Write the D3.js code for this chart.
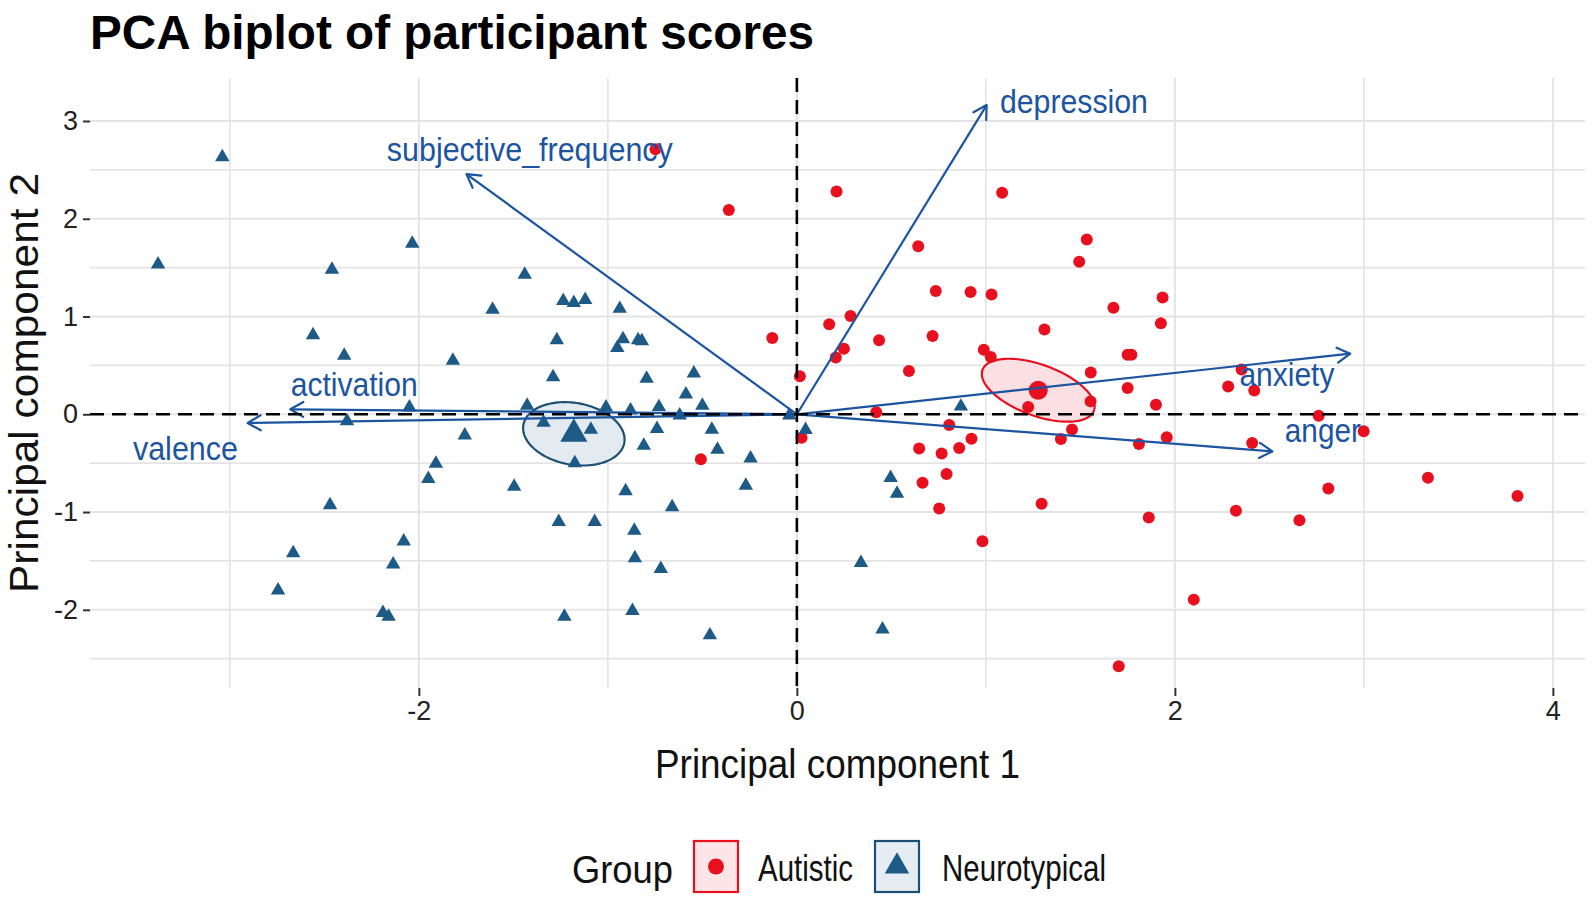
<!DOCTYPE html>
<html>
<head>
<meta charset="utf-8">
<script src="https://cdn.jsdelivr.net/npm/d3@7"></script>
<style>
  body { margin: 0; background: #fff; }
  svg { display: block; }
  text { font-family: "Liberation Sans", Arial, sans-serif; }
</style>
</head>
<body>
<svg id="chart" width="1594" height="901"></svg>
<script>
// ---- data ----
const autisticPC1 = [-0.748, -0.36, 0.21, 1.086, 0.642, 0.735, 0.919, 1.03, -0.13, 0.171,
  0.284, 1.31, 0.435, 0.718, 0.249, 0.206, 0.989, 1.026, 0.016, 0.593,
  1.534, 1.494, 1.935, 1.675, 1.926, 1.75, 1.77, 1.555, 1.75, 2.353,
  2.282, 2.42, 1.554, 1.90, 2.761, 2.999, 1.456, 1.397, 1.81, 1.957,
  2.409, 3.339, 3.813, 2.812, 1.295, 1.862, 2.323, 2.659, 2.10, 1.703,
  1.224, 0.42, 0.806, 0.924, 0.859, 0.766, 0.647, 0.792, 0.665, 0.753,
  0.982, 0.025, -0.508];
const autisticPC2 = [2.71, 2.09, 2.28, 2.265, 1.72, 1.26, 1.25, 1.225, 0.78, 0.92,
  1.006, 0.867, 0.757, 0.80, 0.67, 0.58, 0.66, 0.586, 0.39, 0.443,
  1.788, 1.56, 1.195, 1.09, 0.93, 0.61, 0.61, 0.427, 0.27, 0.457,
  0.285, 0.243, 0.132, 0.097, -0.016, -0.173, -0.156, -0.252, -0.304, -0.234,
  -0.294, -0.65, -0.837, -0.76, -0.916, -1.055, -0.986, -1.083, -1.896, -2.577,
  0.075, 0.02, -0.11, -0.25, -0.345, -0.40, -0.35, -0.61, -0.70, -0.965,
  -1.30, -0.24, -0.46];

const neuroPC1 = [-3.04, -3.38, -2.46, -2.035, -1.44, -1.61, -1.236, -1.18, -1.12, -2.56,
  -2.395, -1.82, -1.27, -1.29, -0.937, -0.92, -0.95, -0.84, -0.82, -0.795,
  -0.545, -0.587, -1.427, -1.01, -0.88, -0.73, -0.50, -0.62, -1.34, -1.09,
  -1.757, -0.74, -0.45, -0.81, -0.42, -0.245, -1.175, -1.91, -1.95, -2.05,
  -2.38, -1.496, -2.47, -1.26, -2.08, -2.665, -2.136, -2.745, -2.19, -2.16,
  -1.23, -0.04, 0.046, -0.906, -0.27, -0.66, -1.07, -0.86, -0.857, -0.72,
  -0.87, -0.46, 0.496, 0.53, 0.868, 0.339, 0.453];
const neuroPC2 = [2.63, 1.535, 1.48, 1.747, 1.43, 1.07, 1.16, 1.14, 1.17, 0.81,
  0.60, 0.55, 0.76, 0.38, 1.08, 0.77, 0.68, 0.76, 0.75, 0.365,
  0.42, 0.205, 0.09, 0.07, 0.04, 0.075, 0.09, -0.01, -0.085, -0.157,
  -0.215, -0.15, -0.157, -0.32, -0.36, -0.45, -0.50, -0.505, -0.66, 0.07,
  -0.07, -0.74, -0.93, -1.10, -1.30, -1.42, -1.535, -1.80, -2.03, -2.07,
  -2.07, -0.01, -0.16, -0.785, -0.73, -0.95, -1.10, -1.19, -1.47, -1.58,
  -2.01, -2.26, -0.65, -0.81, 0.08, -1.52, -2.20];

const groupNames = ['Autistic', 'Neurotypical'];
const groupMeanPC1 = [1.277, -1.18];
const groupMeanPC2 = [0.246, -0.20];
// ellipse half-axes as vectors in data units (u = major, v = minor)
const ellipseU = [[0.295, -0.208], [0.267, -0.091]];
const ellipseV = [[-0.046, -0.246], [-0.028, -0.311]];

const loadingNames = ['subjective_frequency', 'depression', 'anxiety', 'anger', 'valence', 'activation'];
const loadingPC1 = [-1.748, 1.004, 2.928, 2.516, -2.906, -2.68];
const loadingPC2 = [2.457, 3.163, 0.62, -0.38, -0.089, 0.051];
const labelPC1 = [-1.413, 1.466, 2.593, 2.783, -3.235, -2.342];
const labelPC2 = [2.68, 3.17, 0.38, -0.19, -0.38, 0.28];

const xTicks = [-2, 0, 2, 4];
const yTicks = [-2, -1, 0, 1, 2, 3];
const xGrid = [-3, -2, -1, 0, 1, 2, 3, 4];
const yGrid = [-2.5, -2, -1.5, -1, -0.5, 0, 0.5, 1, 1.5, 2, 2.5, 3];

// ---- styling ----
const COLOR_AUT = '#e8101e';
const COLOR_NT = '#1d5a85';
const COLOR_ARROW = '#1c54a0';
const COLOR_GRID = '#e4e4e4';
const PANEL = { left: 90, right: 1585, top: 78, bottom: 688 };

const svg = d3.select('#chart');

const x = d3.scaleLinear().domain([-3.74, 4.17]).range([PANEL.left, PANEL.right]);
const y = d3.scaleLinear().domain([-2.80, 3.44]).range([PANEL.bottom, PANEL.top]);

function fit(sel, len) {
    return sel.attr('textLength', len).attr('lengthAdjust', 'spacingAndGlyphs');
}

// title
fit(svg.append('text')
    .attr('x', 90).attr('y', 49)
    .attr('font-size', 48).attr('font-weight', 'bold').attr('fill', '#000')
    .text('PCA biplot of participant scores'), 724);

// grid
const grid = svg.append('g');
grid.selectAll('line.gx').data(xGrid).join('line')
    .attr('x1', d => x(d)).attr('x2', d => x(d))
    .attr('y1', PANEL.top).attr('y2', PANEL.bottom)
    .attr('stroke', COLOR_GRID).attr('stroke-width', d => xTicks.includes(d) ? 2 : 1.6);
grid.selectAll('line.gy').data(yGrid).join('line')
    .attr('y1', d => y(d)).attr('y2', d => y(d))
    .attr('x1', PANEL.left).attr('x2', PANEL.right)
    .attr('stroke', COLOR_GRID).attr('stroke-width', d => Number.isInteger(d) ? 2 : 1.6);

// axes
const xAxis = svg.append('g').attr('transform', 'translate(0,' + PANEL.bottom + ')')
    .call(d3.axisBottom(x).tickValues(xTicks).tickSize(8).tickPadding(5).tickFormat(d3.format('d')));
const yAxis = svg.append('g').attr('transform', 'translate(' + PANEL.left + ',0)')
    .call(d3.axisLeft(y).tickValues(yTicks).tickSize(7).tickPadding(5).tickFormat(d3.format('d')));
[xAxis, yAxis].forEach(a => {
    a.select('.domain').remove();
    a.selectAll('.tick line').attr('stroke', '#333').attr('stroke-width', 2);
    a.selectAll('.tick text').attr('fill', '#222').attr('font-size', 27)
        .attr('font-family', '"Liberation Sans", Arial, sans-serif');
});
xAxis.selectAll('.tick text').text(d => d < 0 ? '-' + Math.abs(d) : d);
yAxis.selectAll('.tick text').text(d => d < 0 ? '-' + Math.abs(d) : d);

// axis titles
fit(svg.append('text')
    .attr('x', (PANEL.left + PANEL.right) / 2).attr('y', 778)
    .attr('text-anchor', 'middle').attr('font-size', 41).attr('fill', '#111')
    .text('Principal component 1'), 365);
fit(svg.append('text')
    .attr('transform', 'translate(38,' + ((PANEL.top + PANEL.bottom) / 2) + ') rotate(-90)')
    .attr('text-anchor', 'middle').attr('font-size', 41).attr('fill', '#111')
    .text('Principal component 2'), 420);

// confidence ellipses (beneath the points)
const ellLine = d3.line().x(d => x(d[0])).y(d => y(d[1])).curve(d3.curveLinearClosed);
const ellFill = ['#fbdfe3', '#e3eaf0'];
const ellStroke = [COLOR_AUT, '#1d4f73'];
groupNames.forEach((g, gi) => {
    const pts = d3.range(0, 2 * Math.PI, Math.PI / 60).map(t => [
        groupMeanPC1[gi] + Math.cos(t) * ellipseU[gi][0] + Math.sin(t) * ellipseV[gi][0],
        groupMeanPC2[gi] + Math.cos(t) * ellipseU[gi][1] + Math.sin(t) * ellipseV[gi][1]
    ]);
    svg.append('path').attr('d', ellLine(pts))
        .attr('fill', ellFill[gi])
        .attr('stroke', ellStroke[gi]).attr('stroke-width', 2.2);
});

// points
const autistic = autisticPC1.map((v, i) => ({ pc1: v, pc2: autisticPC2[i] }));
const neuro = neuroPC1.map((v, i) => ({ pc1: v, pc2: neuroPC2[i] }));

svg.append('g').selectAll('circle').data(autistic).join('circle')
    .attr('cx', d => x(d.pc1)).attr('cy', d => y(d.pc2))
    .attr('r', 6).attr('fill', COLOR_AUT);

const tri = d3.symbol().type(d3.symbolTriangle).size(90);
svg.append('g').selectAll('path').data(neuro).join('path')
    .attr('d', tri)
    .attr('transform', d => 'translate(' + x(d.pc1) + ',' + y(d.pc2) + ')')
    .attr('fill', COLOR_NT);

// group means
svg.append('circle')
    .attr('cx', x(groupMeanPC1[0])).attr('cy', y(groupMeanPC2[0]))
    .attr('r', 9.5).attr('fill', COLOR_AUT);
svg.append('path')
    .attr('d', d3.symbol().type(d3.symbolTriangle).size(320)())
    .attr('transform', 'translate(' + x(groupMeanPC1[1]) + ',' + y(groupMeanPC2[1]) + ')')
    .attr('fill', COLOR_NT);

// loading arrows
const arrows = svg.append('g');
loadingNames.forEach((name, i) => {
    const x0 = x(0), y0 = y(0);
    const x1 = x(loadingPC1[i]), y1 = y(loadingPC2[i]);
    const ang = Math.atan2(y1 - y0, x1 - x0);
    const L = 15, A = Math.PI / 6;
    const h1 = [x1 - L * Math.cos(ang - A), y1 - L * Math.sin(ang - A)];
    const h2 = [x1 - L * Math.cos(ang + A), y1 - L * Math.sin(ang + A)];
    arrows.append('line')
        .attr('x1', x0).attr('y1', y0).attr('x2', x1).attr('y2', y1)
        .attr('stroke', COLOR_ARROW).attr('stroke-width', 2.2);
    arrows.append('path')
        .attr('d', 'M' + h1 + 'L' + x1 + ',' + y1 + 'L' + h2)
        .attr('fill', 'none').attr('stroke', COLOR_ARROW).attr('stroke-width', 2.2)
        .attr('stroke-linecap', 'round').attr('stroke-linejoin', 'round');
});

// loading labels
const labelWidth = { subjective_frequency: 286, depression: 148, anxiety: 95, anger: 76, valence: 105, activation: 127 };
loadingNames.forEach((name, i) => {
    fit(arrows.append('text')
        .attr('x', x(labelPC1[i])).attr('y', y(labelPC2[i]))
        .attr('text-anchor', 'middle').attr('dominant-baseline', 'middle')
        .attr('font-size', 33).attr('fill', COLOR_ARROW)
        .text(name), labelWidth[name]);
});

// reference lines
svg.append('line')
    .attr('x1', PANEL.left).attr('x2', PANEL.right).attr('y1', y(0)).attr('y2', y(0))
    .attr('stroke', '#000').attr('stroke-width', 2.6).attr('stroke-dasharray', '14,8');
svg.append('line')
    .attr('x1', x(0)).attr('x2', x(0)).attr('y1', PANEL.top).attr('y2', PANEL.bottom)
    .attr('stroke', '#000').attr('stroke-width', 2.6).attr('stroke-dasharray', '14,8');

// legend
const legend = svg.append('g');
fit(legend.append('text').attr('x', 572).attr('y', 883)
    .attr('font-size', 38).attr('fill', '#111').text('Group'), 101);
const boxX = [694, 875];
const textX = [758, 942];
const textW = [95, 164];
groupNames.forEach((g, gi) => {
    legend.append('rect')
        .attr('x', boxX[gi]).attr('y', 841).attr('width', 44).attr('height', 51)
        .attr('fill', gi === 0 ? '#fde4e7' : '#e5ecf2')
        .attr('stroke', ellStroke[gi]).attr('stroke-width', 2.2);
    const cx = boxX[gi] + 22, cy = 866.5;
    if (gi === 0) {
        legend.append('circle').attr('cx', cx).attr('cy', cy).attr('r', 8).attr('fill', COLOR_AUT);
    } else {
        legend.append('path').attr('d', d3.symbol().type(d3.symbolTriangle).size(260)())
            .attr('transform', 'translate(' + cx + ',' + cy + ')').attr('fill', COLOR_NT);
    }
    fit(legend.append('text').attr('x', textX[gi]).attr('y', 881)
        .attr('font-size', 36).attr('fill', '#111').text(g), textW[gi]);
});
</script>
</body>
</html>
